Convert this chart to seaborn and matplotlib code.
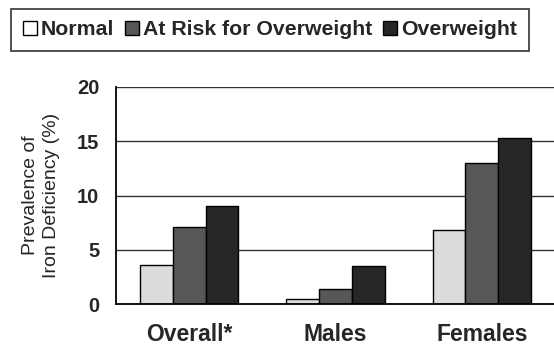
import pandas as pd
import matplotlib
matplotlib.use('Agg')
import matplotlib.pyplot as plt
import seaborn as sns
from matplotlib.lines import Line2D

# data
groups = ['Overall*', 'Males', 'Females']
weight_status = ['Normal', 'At Risk for Overweight', 'Overweight']
normal = [3.6, 0.45, 6.8]
at_risk = [7.1, 1.4, 13.0]
overweight = [9.0, 3.5, 15.3]
colors = ['#dcdcdc', '#575757', '#262626']

df = pd.DataFrame({
    'group': groups * 3,
    'status': [s for s in weight_status for _ in groups],
    'value': normal + at_risk + overweight,
})

sns.set_style('white')
plt.rcParams['font.family'] = ['Liberation Sans', 'DejaVu Sans']

fig = plt.figure(figsize=(5.54, 3.48), dpi=100)
ax = fig.add_axes([0.2094, 0.1264, 0.7924, 0.6236])

sns.barplot(data=df, x='group', y='value', hue='status', order=groups,
            hue_order=weight_status, palette=colors, width=0.67,
            edgecolor='black', linewidth=1.0, saturation=1, ax=ax, legend=False)

ax.set_ylim(0, 20)
ax.set_xlim(-0.5, 2.5)
ax.set_yticks([0, 5, 10, 15, 20])
ax.yaxis.grid(True, color='#333333', linewidth=1.0)
ax.set_axisbelow(True)

for side in ['top', 'right']:
    ax.spines[side].set_visible(False)
for side in ['left', 'bottom']:
    ax.spines[side].set_color('black')
    ax.spines[side].set_linewidth(1.3)

# category ticks sit at the group boundaries
ax.set_xticks([0.5, 1.5], minor=True)
ax.tick_params(axis='x', which='major', length=0, pad=14, labelsize=16.5)
ax.tick_params(axis='x', which='minor', direction='out', length=5, width=1.2, color='black')
ax.tick_params(axis='y', direction='out', length=6, width=1.2, color='black', pad=6, labelsize=14.5)
for lab in ax.get_xticklabels() + ax.get_yticklabels():
    lab.set_fontweight('bold')

ax.set_xlabel('')
ax.set_ylabel('Prevalence of\nIron Deficiency (%)', fontsize=14, labelpad=12, linespacing=1.35)

handles = [Line2D([], [], marker='s', linestyle='none', markersize=10,
                  markerfacecolor=c, markeredgecolor='black', markeredgewidth=1.0)
           for c in ['white', colors[1], colors[2]]]
leg = fig.legend(handles, weight_status, loc='upper left', bbox_to_anchor=(0.02, 0.975),
                 ncol=3, frameon=True, fancybox=False, edgecolor='black',
                 handlelength=0.7, handletextpad=0.15, columnspacing=0.5,
                 borderpad=0.55, borderaxespad=0.0, prop={'weight': 'bold', 'size': 15.3})
leg.get_frame().set_linewidth(1.2)

fig.savefig('out.png', dpi=100, facecolor='white')
